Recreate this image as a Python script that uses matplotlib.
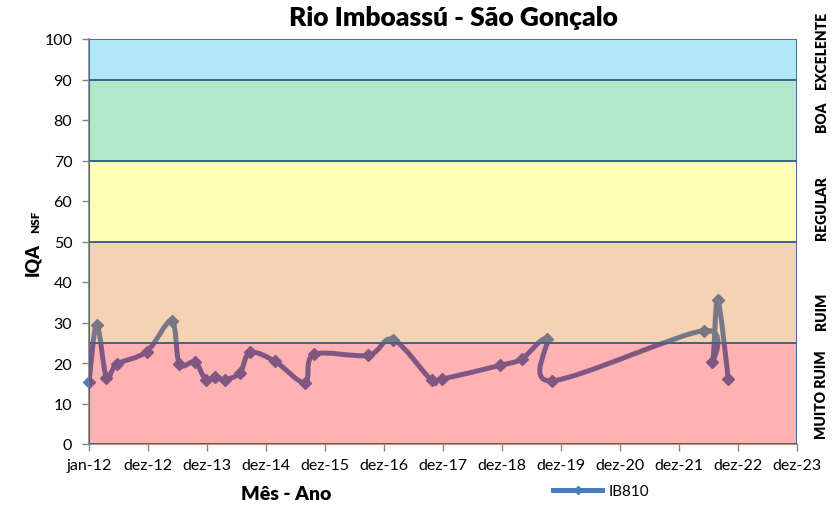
import datetime as dt

import matplotlib
matplotlib.use("Agg")
import matplotlib.dates as mdates
import matplotlib.pyplot as plt
import numpy as np
from matplotlib.lines import Line2D
from matplotlib.patches import PathPatch
from matplotlib.path import Path

plt.rcParams["font.family"] = ["Lato", "DejaVu Sans"]

# --- data (station IB810) ----------------------------------------------------
SAMPLE_DATES = [
    "2012-01-01", "2012-02-18", "2012-04-18", "2012-06-20", "2012-12-23",
    "2013-05-26", "2013-07-13", "2013-10-18", "2013-12-25", "2014-02-18",
    "2014-04-21", "2014-07-23", "2014-09-23", "2015-02-25", "2015-08-29",
    "2015-10-24", "2016-09-24", "2017-02-25", "2017-10-21", "2017-12-22",
    "2018-12-17", "2019-05-01", "2019-10-02", "2019-11-02", "2022-06-02",
    "2022-07-24", "2022-08-25", "2022-10-30",
]
IQA_IB810 = [
    15.3, 29.5, 16.4, 19.7, 22.8,
    30.4, 19.8, 20.2, 15.7, 16.6,
    15.9, 17.6, 22.6, 20.4, 15.1,
    22.1, 21.9, 25.8, 15.7, 16.0,
    19.4, 21.0, 25.9, 15.6, 28.0,
    20.3, 35.6, 16.1,
]

BAND_EDGES = [0, 25, 50, 70, 90, 100]
BAND_COLORS = ["#FF0000", "#E46C0A", "#FFFF00", "#00B050", "#00B0F0"]
BAND_NAMES = ["MUITO RUIM", "RUIM", "REGULAR", "BOA", "EXCELENTE"]
BAND_LABEL_Y = [12.5, 33.0, 58.5, 81.0, 97.5]

MESES = ["jan", "fev", "mar", "abr", "mai", "jun",
         "jul", "ago", "set", "out", "nov", "dez"]

_LINE = "#4A7EBB"
_EDGE = "#3C6496"
_AXIS = "#868686"


def _smooth_path(x, y):
    """Excel-like smoothed line: Catmull-Rom as cubic Bezier segments."""
    pts = np.column_stack([x, y])
    n = len(pts)
    verts, codes = [pts[0]], [Path.MOVETO]
    for i in range(n - 1):
        p0, p1 = pts[max(i - 1, 0)], pts[i]
        p2, p3 = pts[i + 1], pts[min(i + 2, n - 1)]
        verts += [p1 + (p2 - p0) / 6, p2 - (p3 - p1) / 6, p2]
        codes += [Path.CURVE4] * 3
    return Path(verts, codes)


def _fmt_date(v, _pos=None):
    d = mdates.num2date(v)
    return f"{MESES[d.month - 1]}-{d.year % 100:02d}"


fig = plt.figure(figsize=(8.4, 5.06), dpi=100)
ax = fig.add_axes([89 / 840, 1 - 445 / 506, 708 / 840, 405 / 506])

x = mdates.date2num([dt.date.fromisoformat(s) for s in SAMPLE_DATES])
y = np.array(IQA_IB810)

# series drawn first, bands laid semi-transparent on top (as in the original)
ax.add_patch(PathPatch(_smooth_path(x, y), facecolor="none", edgecolor=_LINE,
                       linewidth=3.6, capstyle="round", joinstyle="round", zorder=2))
ax.plot(x, y, ls="none", marker="D", ms=6, color=_LINE, zorder=2, clip_on=False)

for lo, hi, c in zip(BAND_EDGES[:-1], BAND_EDGES[1:], BAND_COLORS):
    ax.axhspan(lo, hi, facecolor=matplotlib.colors.to_rgba(c, 0.30),
               edgecolor=_EDGE, linewidth=1.3, zorder=3)

x0 = mdates.date2num(dt.date(2012, 1, 1))
ax.set_xlim(x0, x0 + 12 * 365)
ax.set_ylim(0, 100)
ax.set_xticks([x0 + 365 * k for k in range(13)])
ax.xaxis.set_major_formatter(_fmt_date)
ax.set_yticks(range(0, 101, 10))

for side in ("top", "right"):
    ax.spines[side].set_visible(False)
for side in ("left", "bottom"):
    ax.spines[side].set_color(_AXIS)
    ax.spines[side].set_linewidth(1.2)
ax.tick_params(colors=_AXIS, labelcolor="black", labelsize=11.5, length=5,
               width=1.0, direction="out")
ax.tick_params(axis="x", pad=5)
ax.tick_params(axis="y", pad=7)

for name, yy in zip(BAND_NAMES, BAND_LABEL_Y):
    ax.text(1.034, yy, name, transform=ax.get_yaxis_transform(), rotation=90,
            ha="center", va="center", fontsize=10, fontweight="heavy")

fig.text(453 / 840, 1 - 18 / 506, "Rio Imboassú - São Gonçalo", ha="center",
         va="center", fontsize=19, fontweight="heavy")
fig.text(33 / 840, 1 - 260 / 506, "IQA", rotation=90, ha="center", va="center",
         fontsize=13, fontweight="heavy")
fig.text(36 / 840, 1 - 222 / 506, "NSF", rotation=90, ha="center", va="center",
         fontsize=8.5, fontweight="heavy")
fig.text(286 / 840, 1 - 495 / 506, "Mês - Ano", ha="center", va="center",
         fontsize=14, fontweight="heavy")

handle = Line2D([], [], color=_LINE, lw=3.6, marker="D", ms=4)
fig.legend([handle], ["IB810"], loc="center", bbox_to_anchor=(601 / 840, 1 - 492 / 506),
           frameon=False, fontsize=11, handlelength=3.2, handletextpad=0.4)

fig.savefig("out.png", dpi=100)
